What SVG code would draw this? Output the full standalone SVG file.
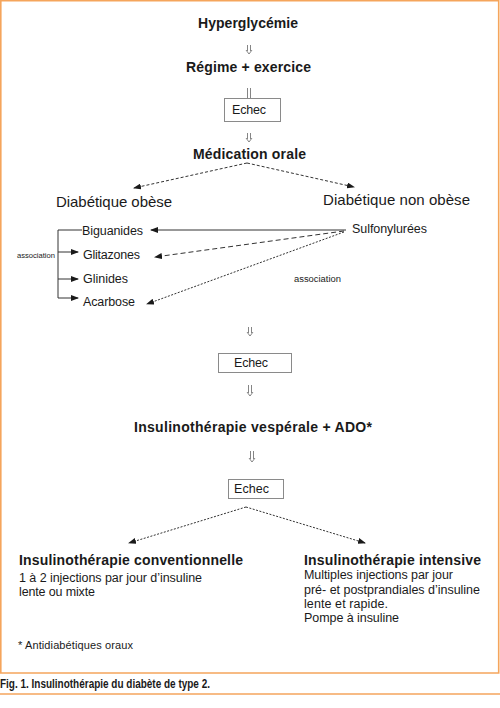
<svg xmlns="http://www.w3.org/2000/svg" width="500" height="708" viewBox="0 0 500 708">
<style>
.t{font-family:"Liberation Sans",Arial,sans-serif;fill:#1a1a1a}
.b{font-weight:bold}
.box{fill:#fff;stroke:#8a8a8a;stroke-width:1}
.dbl{fill:none;stroke:#777;stroke-width:0.9}
.ln{fill:none;stroke:#333;stroke-width:1}
.frame{fill:none;stroke:#F5A55C;stroke-width:1.6}
</style>
<defs>
<marker id="ah" markerWidth="8" markerHeight="6" refX="7" refY="3" orient="auto" markerUnits="userSpaceOnUse">
<path d="M0,0 L8,3 L0,6 Z" fill="#1a1a1a"/>
</marker>
</defs>
<rect width="500" height="708" fill="#fff"/>
<g id="frame">
<path class="frame" d="M0.8,673 V0.8 H498.7 V673 H0"/>
<line class="frame" x1="0" y1="694" x2="500" y2="694"/>
</g>
<g id="connectors">
<path class="dbl" d="M247.5,45 V51 M250.5,45 V51 M246,50 L249,54 L252,50"/>
<path class="dbl" d="M247.5,88 V98 M250.5,88 V98"/>
<path class="dbl" d="M247.5,133 V139 M250.5,133 V139 M246,138 L249,142 L252,138"/>
<path class="dbl" d="M248.5,327 V333 M251.5,327 V333 M247,332 L250,336 L253,332"/>
<path class="dbl" d="M248.5,385 V393 M251.5,385 V393 M247,392 L250,396 L253,392"/>
<path class="dbl" d="M250.5,451 V459 M253.5,451 V459 M249,458 L252,462 L255,458"/>
<line class="ln" x1="247" y1="163" x2="134" y2="188" stroke-dasharray="3,2" marker-end="url(#ah)"/>
<line class="ln" x1="247" y1="163" x2="354" y2="187" stroke-dasharray="3,2" marker-end="url(#ah)"/>
<line class="ln" x1="346" y1="230" x2="151" y2="230" stroke="#555" marker-end="url(#ah)"/>
<line class="ln" x1="344" y1="231" x2="155" y2="257" stroke-dasharray="5,3" marker-end="url(#ah)"/>
<line class="ln" x1="344" y1="232" x2="147" y2="304" stroke-dasharray="2,1.5" marker-end="url(#ah)"/>
<path class="ln" d="M82,230 H58 V298" stroke="#777"/>
<line class="ln" x1="58" y1="252" x2="78" y2="252" marker-end="url(#ah)"/>
<line class="ln" x1="58" y1="279" x2="78" y2="279" marker-end="url(#ah)"/>
<line class="ln" x1="58" y1="298" x2="78" y2="298" marker-end="url(#ah)"/>
<line class="ln" x1="246" y1="507" x2="129" y2="543" stroke-dasharray="2,1.5" marker-end="url(#ah)"/>
<line class="ln" x1="246" y1="507" x2="365" y2="543" stroke-dasharray="2,1.5" marker-end="url(#ah)"/>
</g>
<g id="n-hyper"><text class="t b" x="248" y="28" font-size="14" text-anchor="middle" textLength="100">Hyperglycémie</text></g>
<g id="n-regime"><text class="t b" x="248.5" y="72" font-size="14" text-anchor="middle" textLength="125">Régime + exercice</text></g>
<g id="n-echec1"><rect class="box" x="224.5" y="98.5" width="56" height="23"/><text class="t" x="232" y="114" font-size="12.5" textLength="34">Echec</text></g>
<g id="n-medic"><text class="t b" x="249.5" y="159" font-size="14" text-anchor="middle" textLength="113">Médication orale</text></g>
<g id="n-obese"><text class="t" x="56" y="207" font-size="15" textLength="116">Diabétique obèse</text></g>
<g id="n-nonobese"><text class="t" x="323" y="205" font-size="15" textLength="147">Diabétique non obèse</text></g>
<g id="n-biguanides"><text class="t" x="82" y="235" font-size="12.5" textLength="61">Biguanides</text></g>
<g id="n-glitazones"><text class="t" x="83" y="259" font-size="12.5" textLength="57">Glitazones</text></g>
<g id="n-glinides"><text class="t" x="83" y="283" font-size="12.5" textLength="45">Glinides</text></g>
<g id="n-acarbose"><text class="t" x="83" y="306" font-size="12.5" textLength="52">Acarbose</text></g>
<g id="n-sulfo"><text class="t" x="352" y="233" font-size="12.5" textLength="75">Sulfonylurées</text></g>
<g id="l-assoc1"><text class="t" x="17" y="258" font-size="7" textLength="38" lengthAdjust="spacingAndGlyphs">association</text></g>
<g id="l-assoc2"><text class="t" x="294" y="282" font-size="8.5" textLength="47" lengthAdjust="spacingAndGlyphs">association</text></g>
<g id="n-echec2"><rect class="box" x="218.5" y="353.5" width="73" height="19"/><text class="t" x="234" y="367" font-size="12.5" textLength="34">Echec</text></g>
<g id="n-vesp"><text class="t b" x="134" y="432" font-size="14" textLength="238">Insulinothérapie vespérale + ADO*</text></g>
<g id="n-echec3"><rect class="box" x="228.5" y="479.5" width="55" height="19" stroke="#aaa"/><text class="t" x="234" y="493" font-size="12.5" textLength="35">Echec</text></g>
<g id="n-conv">
<text class="t b" x="19" y="565" font-size="14" textLength="224">Insulinothérapie conventionnelle</text>
<text class="t" x="19" y="582" font-size="12.5" textLength="183">1 à 2 injections par jour d’insuline</text>
<text class="t" x="19" y="596" font-size="12.5" textLength="76">lente ou mixte</text>
</g>
<g id="n-intens">
<text class="t b" x="304" y="565" font-size="14" textLength="177">Insulinothérapie intensive</text>
<text class="t" x="304" y="579" font-size="12.5" textLength="149">Multiples injections par jour</text>
<text class="t" x="304" y="594" font-size="12.5" textLength="176">pré- et postprandiales d’insuline</text>
<text class="t" x="304" y="608" font-size="12.5" textLength="84">lente et rapide.</text>
<text class="t" x="304" y="622" font-size="12.5" textLength="95">Pompe à insuline</text>
</g>
<g id="footnote"><text class="t" x="18" y="649" font-size="11" textLength="115">* Antidiabétiques oraux</text></g>
<g id="caption"><text x="0" y="688" font-family="'Liberation Sans Narrow','Liberation Sans',Arial,sans-serif" font-weight="bold" font-size="12" fill="#1a1a1a" textLength="210" lengthAdjust="spacingAndGlyphs">Fig. 1. Insulinothérapie du diabète de type 2.</text></g>
</svg>
